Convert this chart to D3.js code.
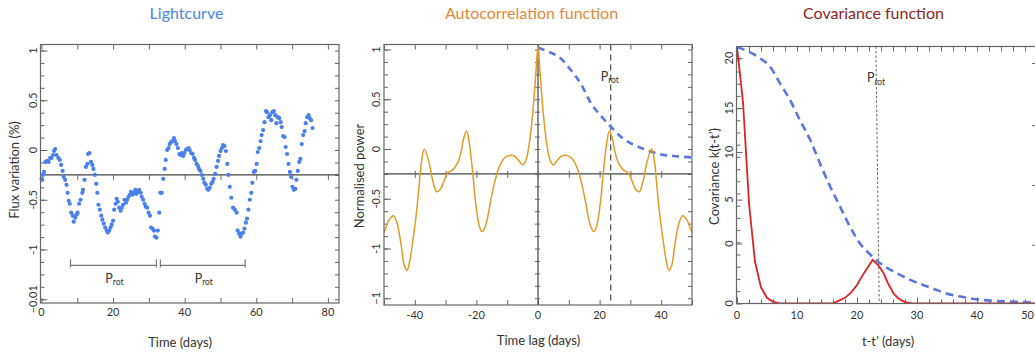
<!DOCTYPE html>
<html><head><meta charset="utf-8">
<script src="https://cdn.jsdelivr.net/npm/d3@7"></script>
<style>
html,body{margin:0;padding:0;background:#fff;}
svg{display:block;font-family:Lato,"Open Sans",sans-serif;}
</style></head><body>
<svg id="chart" width="1035" height="356"></svg>
<script>
// ---------- DATA ----------
// Lightcurve (time in days, flux variation in %)
const lcTime = [0.0,0.2,0.4,0.7,1.1,1.6,2.0,2.4,2.8,3.2,
3.5,3.8,4.2,4.7,5.1,5.5,5.9,6.2,6.6,7.0,
7.3,7.6,7.9,8.3,8.7,9.0,9.4,9.8,10.1,10.5,
10.9,11.4,11.6,12.0,12.4,12.8,13.0,13.4,13.8,14.2,
14.5,14.9,15.3,15.6,15.9,16.3,16.7,17.0,17.4,17.8,
18.2,18.5,18.9,19.3,19.6,20.0,20.3,20.7,21.0,21.3,
21.7,22.1,22.4,22.8,23.2,23.6,23.9,24.3,24.7,25.0,
25.4,25.8,26.2,26.5,26.9,27.3,27.7,28.0,28.4,28.8,
29.1,29.5,29.9,30.3,30.6,31.0,31.4,31.7,32.1,32.5,
32.9,33.2,33.6,34.0,34.4,34.7,35.1,35.5,35.8,36.2,
36.6,37.0,37.3,37.7,38.1,38.5,38.8,39.2,39.6,39.9,
40.3,40.7,41.1,41.4,41.8,42.2,42.6,42.9,43.3,43.7,
44.0,44.4,44.8,45.2,45.5,45.9,46.3,46.6,47.0,47.4,
47.8,48.1,48.5,48.9,49.3,49.6,50.0,50.4,50.7,51.1,
51.5,51.9,52.2,52.6,53.0,53.5,54.0,54.5,54.8,55.2,
55.6,55.9,56.3,56.7,57.1,57.4,57.8,58.2,58.6,58.9,
59.3,59.7,60.1,60.4,60.8,61.2,61.5,61.9,62.3,62.7,
63.0,63.4,63.8,64.2,64.5,64.9,65.3,65.6,66.0,66.4,
66.8,67.1,67.5,67.9,68.2,68.6,69.0,69.4,69.7,70.1,
70.5,70.9,71.2,71.6,72.0,72.3,72.7,73.1,73.5,73.8,
74.2,74.6,74.9,75.3,75.7];
const lcFlux = [-0.29,-0.30,-0.25,-0.22,-0.12,-0.11,-0.12,-0.08,-0.08,-0.05,
-0.01,0.01,-0.05,-0.08,-0.10,-0.15,-0.21,-0.27,-0.30,-0.35,
-0.43,-0.51,-0.54,-0.63,-0.66,-0.72,-0.68,-0.65,-0.63,-0.54,
-0.50,-0.43,-0.40,-0.30,-0.17,-0.14,-0.04,-0.03,-0.12,-0.15,
-0.19,-0.25,-0.34,-0.43,-0.55,-0.60,-0.66,-0.70,-0.74,-0.78,
-0.81,-0.83,-0.81,-0.78,-0.75,-0.71,-0.60,-0.54,-0.49,-0.52,
-0.58,-0.61,-0.58,-0.55,-0.50,-0.53,-0.50,-0.47,-0.45,-0.42,
-0.45,-0.43,-0.40,-0.44,-0.42,-0.40,-0.43,-0.47,-0.50,-0.54,
-0.57,-0.58,-0.63,-0.66,-0.78,-0.79,-0.81,-0.87,-0.88,-0.81,
-0.63,-0.43,-0.43,-0.29,-0.19,-0.10,0.00,0.02,0.06,0.08,
0.09,0.12,0.09,0.06,0.02,-0.04,-0.05,-0.03,-0.06,-0.03,
0.00,0.01,0.02,0.00,-0.03,-0.04,-0.08,-0.10,-0.14,-0.16,
-0.19,-0.21,-0.25,-0.29,-0.33,-0.35,-0.39,-0.40,-0.38,-0.34,
-0.32,-0.29,-0.24,-0.17,-0.11,-0.06,-0.01,0.02,0.05,0.04,
-0.01,-0.14,-0.25,-0.37,-0.48,-0.58,-0.60,-0.63,-0.81,-0.84,
-0.87,-0.84,-0.83,-0.79,-0.73,-0.69,-0.60,-0.50,-0.43,-0.33,
-0.22,-0.21,-0.14,-0.02,0.02,0.09,0.15,0.20,0.28,0.39,
0.38,0.33,0.35,0.30,0.38,0.39,0.35,0.27,0.33,0.32,
0.28,0.23,0.14,0.13,0.03,-0.04,-0.14,-0.22,-0.27,-0.37,
-0.40,-0.39,-0.30,-0.21,-0.12,-0.09,0.06,0.15,0.19,0.27,
0.33,0.35,0.32,0.30,0.22];
const lcMean = -0.25;
const lcProtSpans = [[8.1,32.1],[33.2,56.9]];
const lcProtLevel = -1.16;
const lcXTicks = [0,20,40,60,80];
const lcYTickValues = [1,0.5,0,-0.5,-1,-1.5];
const lcYTickLabels = ["1","0.5","0","-0.5","-1","\u22120.01"];

// Autocorrelation function
const acfLag = [-50,-49.6,-48.3,-47.0,-45.9,-44.5,-43.4,-42.5,-41.8,-40.9,
-39.6,-38.5,-37.8,-36.9,-35.5,-34.0,-32.9,-31.8,-30.4,-29.3,
-27.7,-26.1,-25.0,-24.0,-23.2,-22.3,-21.2,-20.1,-19.0,-18.2,
-17.4,-16.3,-15.3,-14.2,-12.6,-10.9,-9.3,-7.7,-6.1,-5.0,
-3.9,-2.8,-1.7,-0.7,0,
0.7,1.7,2.8,3.9,5.0,6.1,7.7,9.3,10.9,12.6,
14.2,15.3,16.3,17.4,18.2,19.0,20.1,21.2,22.3,23.2,
24.0,25.0,26.1,27.7,29.3,30.4,31.8,32.9,34.0,35.5,
36.9,37.8,38.5,39.6,40.9,41.8,42.5,43.4,44.5,45.9,
47.0,48.3,49.6,50];
const acfPower = [-0.84,-0.81,-0.71,-0.67,-0.73,-0.95,-1.17,-1.22,-1.15,-0.98,
-0.68,-0.34,-0.12,0.0,-0.12,-0.34,-0.43,-0.41,-0.31,-0.24,
-0.21,-0.14,-0.03,0.12,0.18,0.06,-0.24,-0.58,-0.78,-0.83,
-0.80,-0.68,-0.51,-0.35,-0.18,-0.09,-0.065,-0.07,-0.12,-0.16,
-0.11,0.06,0.36,0.76,1.03,
0.76,0.36,0.06,-0.11,-0.16,-0.12,-0.07,-0.065,-0.09,-0.18,
-0.35,-0.51,-0.68,-0.80,-0.83,-0.78,-0.58,-0.24,0.06,0.18,
0.12,-0.03,-0.14,-0.21,-0.24,-0.31,-0.41,-0.43,-0.34,-0.12,
0.0,-0.12,-0.34,-0.68,-0.98,-1.15,-1.22,-1.17,-0.95,-0.73,
-0.67,-0.71,-0.81,-0.84];
const acfEnvLag = [0,4,7,10.5,14,17,20.5,23.5,27,30,33.5,37,40,44,50];
const acfEnvPower = [1.02,0.97,0.92,0.80,0.65,0.47,0.33,0.23,0.12,0.06,0.01,-0.03,-0.055,-0.07,-0.085];
const acfZero = -0.25;
const acfProt = 23.6;
const acfXTicks = [-40,-20,0,20,40];
const acfYTickValues = [1,0.5,0,-0.5,-1,-1.5];
const acfYTickLabels = ["1","0.5","0","-0.5","-1","\u22121"];

// Covariance function
const covLag = [0,1,2,3,4,5,6,7,8,16,17,18,19,20,21,22,22.6,23.6,24.4,25.2,26.1,26.9,28,29,30,50];
const covQP  = [21,16.5,8.2,3.4,1.3,0.45,0.12,0.02,0,0,0.22,0.45,0.88,1.5,2.35,3.1,3.55,3.1,2.5,1.6,0.8,0.4,0.1,0.02,0,0];
const covEnvLag = [0,3.8,5.5,7.2,8.8,10.5,12.2,13.8,15.5,17.2,18.8,20.5,22.2,23.8,26.1,28.3,30.5,32.7,34.9,37.2,39.9,42.7,46,50];
const covEnv    = [21,20.1,19.4,18.0,16.7,15.0,13.4,11.5,9.6,7.9,6.3,4.9,4.0,3.3,2.6,2.05,1.6,1.2,0.8,0.55,0.33,0.2,0.13,0.05];
const covProtTopBottom = [23.15,23.7];
const covXTicks = [0,10,20,30,40,50];
const covYTickValues = [20.1,16.0,12.4,8.5,4.9,0];
const covYTickLabels = ["20","15","10","5","0","0"];
const covRightTicks = [4.8,9.7,14.6,19.7];

// ---------- LAYOUT ----------
const svg = d3.select("#chart");
const TXT = "#333", AX = "#666";
const lcBox = {l:40.5, r:339, t:44.5, b:303};
const acfBox = {l:384, r:692, t:44.5, b:305};
const covBox = {l:736.5, r:1040, t:46.5, b:303.5};

const xL = d3.scaleLinear().domain([0,80]).range([41.5,327.9]);
const yL = d3.scaleLinear().domain([1,-1.5]).range([50.5,299.25]);
const xA = d3.scaleLinear().domain([-50,50]).range([384,692]);
const yA = d3.scaleLinear().domain([1,-1.5]).range([49.5,298.25]);
const xC = d3.scaleLinear().domain([0,50]).range([737,1037]);
const yC = d3.scaleLinear().domain([0,21]).range([303.3,47.1]);

function frame(b){
  svg.append("rect").attr("x",b.l).attr("y",b.t).attr("width",b.r-b.l).attr("height",b.b-b.t)
    .attr("fill","none").attr("stroke",AX).attr("stroke-width",1.2);
}
function ticks(axisFn, scale, values, size, tx, ty){
  const g = svg.append("g").attr("transform",`translate(${tx},${ty})`)
    .call(axisFn(scale).tickValues(values).tickSize(size).tickFormat(""));
  g.select(".domain").remove();
  g.selectAll(".tick line").attr("stroke",AX).attr("stroke-width",1);
  g.selectAll(".tick text").remove();
  return g;
}
function xLabels(scale, values, y, lastEndAt){
  svg.append("g").selectAll("text").data(values).join("text")
    .attr("x",(d,i)=> (lastEndAt && i===values.length-1) ? lastEndAt : scale(d))
    .attr("y",y)
    .attr("text-anchor",(d,i)=> (lastEndAt && i===values.length-1) ? "end" : "middle")
    .attr("font-size",11).attr("fill",TXT).text(d=>d);
}
function yLabels(scale, values, labels, x){
  svg.append("g").selectAll("text").data(values).join("text")
    .attr("transform",d=>`translate(${x},${scale(d)}) rotate(-90)`)
    .attr("text-anchor","middle").attr("font-size",11).attr("fill",TXT)
    .text((d,i)=>labels[i]);
}
function title(text, x, color){
  svg.append("text").attr("x",x).attr("y",18.5).attr("text-anchor","middle")
    .attr("font-size",16).attr("fill",color).text(text);
}
function xTitle(text, x, y){
  svg.append("text").attr("x",x).attr("y",y).attr("text-anchor","middle")
    .attr("font-size",13).attr("fill",TXT).text(text);
}
function yTitle(text, x, y){
  svg.append("text").attr("transform",`translate(${x},${y}) rotate(-90)`)
    .attr("text-anchor","middle").attr("font-size",13).attr("fill",TXT).text(text);
}
function protLabel(x, y, anchor){
  const t = svg.append("text").attr("x",x).attr("y",y).attr("text-anchor",anchor)
    .attr("fill",TXT).attr("font-size",12.5);
  t.append("tspan").text("P");
  t.append("tspan").attr("font-size",8.5).attr("dy",2.5).text("rot");
}
function clip(id, b){
  svg.append("clipPath").attr("id",id).append("rect")
    .attr("x",b.l).attr("y",b.t).attr("width",b.r-b.l).attr("height",b.b-b.t);
}

// ---------- PANEL 1: Lightcurve ----------
title("Lightcurve", 186.5, "#4a86e8");
const yMinor = d3.range(-1.5,1.001,0.125);
ticks(d3.axisLeft, yL, yMinor, -4, lcBox.l, 0);
ticks(d3.axisLeft, yL, lcYTickValues, -7, lcBox.l, 0);
ticks(d3.axisRight, yL, yMinor, -4, lcBox.r, 0);
ticks(d3.axisBottom, xL, d3.range(0,81,10), -5, 0, lcBox.b);
ticks(d3.axisTop, xL, d3.range(0,81,10), -5, 0, lcBox.t);
svg.append("line").attr("x1",lcBox.l).attr("x2",lcBox.r).attr("y1",yL(lcMean)).attr("y2",yL(lcMean))
  .attr("stroke","#444").attr("stroke-width",1.2);
ticks(d3.axisBottom, xL, d3.range(10,81,10), 5, 0, yL(lcMean));

// P_rot brackets
const br = svg.append("g").attr("stroke","#777").attr("stroke-width",1.2).attr("fill","none");
lcProtSpans.forEach(s=>{
  const yy = yL(lcProtLevel);
  br.append("line").attr("x1",xL(s[0])).attr("x2",xL(s[1])).attr("y1",yy).attr("y2",yy);
  br.append("line").attr("x1",xL(s[0])).attr("x2",xL(s[0])).attr("y1",yy-6).attr("y2",yy+2);
  br.append("line").attr("x1",xL(s[1])).attr("x2",xL(s[1])).attr("y1",yy-6).attr("y2",yy+2);
  protLabel(xL((s[0]+s[1])/2)+1, 282.5, "middle");
});

svg.append("g").selectAll("circle").data(d3.zip(lcTime, lcFlux)).join("circle")
  .attr("cx",d=>xL(d[0])).attr("cy",d=>yL(d[1])).attr("r",2.1).attr("fill","#4a80ee");
frame(lcBox);
xLabels(xL, lcXTicks, 316);
yLabels(yL, lcYTickValues, lcYTickLabels, 36.5);
xTitle("Time (days)", 180, 347);
yTitle("Flux variation (%)", 18.5, 170);

// ---------- PANEL 2: ACF ----------
title("Autocorrelation function", 531.5, "#e0893a");
clip("clipA", acfBox);
ticks(d3.axisLeft, yA, yMinor, -4, acfBox.l, 0);
ticks(d3.axisLeft, yA, acfYTickValues, -7, acfBox.l, 0);
ticks(d3.axisRight, yA, yMinor, -4, acfBox.r, 0);
ticks(d3.axisBottom, xA, d3.range(-50,51,10), -5, 0, acfBox.b);
ticks(d3.axisTop, xA, d3.range(-50,51,10), -5, 0, acfBox.t);
svg.append("line").attr("x1",acfBox.l).attr("x2",acfBox.r).attr("y1",yA(acfZero)).attr("y2",yA(acfZero))
  .attr("stroke","#444").attr("stroke-width",1.2);
svg.append("line").attr("x1",xA(0)).attr("x2",xA(0)).attr("y1",acfBox.t).attr("y2",acfBox.b)
  .attr("stroke","#444").attr("stroke-width",1.2);
ticks(d3.axisBottom, xA, d3.range(-40,41,10), 4, 0, yA(acfZero));
ticks(d3.axisTop, xA, d3.range(-40,41,10), 3, 0, yA(acfZero));
ticks(d3.axisLeft, yA, yMinor, 3, xA(0), 0);
ticks(d3.axisRight, yA, yMinor, 2, xA(0), 0);
svg.append("line").attr("x1",xA(acfProt)).attr("x2",xA(acfProt)).attr("y1",acfBox.t).attr("y2",acfBox.b)
  .attr("stroke","#555").attr("stroke-width",1.3).attr("stroke-dasharray","6,4");
protLabel(xA(acfProt)-10, 80.5, "start");

const gA = svg.append("g").attr("clip-path","url(#clipA)");
gA.append("path").datum(d3.zip(acfEnvLag, acfEnvPower))
  .attr("d", d3.line().x(d=>xA(d[0])).y(d=>yA(d[1])).curve(d3.curveMonotoneX))
  .attr("fill","none").attr("stroke","#5a78dd").attr("stroke-width",2.6).attr("stroke-dasharray","7,5");
gA.append("path").datum(d3.zip(acfLag, acfPower))
  .attr("d", d3.line().x(d=>xA(d[0])).y(d=>yA(d[1])).curve(d3.curveCatmullRom.alpha(0.5)))
  .attr("fill","none").attr("stroke","#e39b26").attr("stroke-width",1.5);
frame(acfBox);
xLabels(xA, acfXTicks, 319);
yLabels(yA, acfYTickValues, acfYTickLabels, 380);
xTitle("Time lag (days)", 538.5, 345);
yTitle("Normalised power", 363.5, 176);

// ---------- PANEL 3: Covariance ----------
title("Covariance function", 873.5, "#8b1f1f");
clip("clipC", covBox);
ticks(d3.axisLeft, yC, d3.range(0,21.5,1), -4, covBox.l, 0);
ticks(d3.axisLeft, yC, covYTickValues, -6, covBox.l, 0);
ticks(d3.axisRight, yC, covRightTicks, -5, covBox.r - 3, 0);
ticks(d3.axisBottom, xC, d3.range(0,51,2), -4, 0, covBox.b);
ticks(d3.axisBottom, xC, covXTicks, -6, 0, covBox.b);
ticks(d3.axisTop, xC, d3.range(0,51,2), -5, 0, covBox.t);
svg.append("line").attr("x1",xC(covProtTopBottom[0])).attr("x2",xC(covProtTopBottom[1]))
  .attr("y1",covBox.t).attr("y2",covBox.b)
  .attr("stroke","#666").attr("stroke-width",1).attr("stroke-dasharray","2.5,2");
protLabel(xC(covProtTopBottom[0])-9, 82, "start");

const gC = svg.append("g").attr("clip-path","url(#clipC)");
gC.append("path").datum(d3.zip(covEnvLag, covEnv))
  .attr("d", d3.line().x(d=>xC(d[0])).y(d=>yC(d[1])).curve(d3.curveMonotoneX))
  .attr("fill","none").attr("stroke","#5a78dd").attr("stroke-width",2.6).attr("stroke-dasharray","8,5");
gC.append("path").datum(d3.zip(covLag, covQP))
  .attr("d", d3.line().x(d=>xC(d[0])).y(d=>yC(d[1])))
  .attr("fill","none").attr("stroke","#dd2222").attr("stroke-width",1.8);
frame(covBox);
xLabels(xC, covXTicks, 318.5, 1034);
yLabels(yC, covYTickValues, covYTickLabels, 733);
xTitle("t-t\u2019  (days)", 888, 346);
yTitle("Covariance k(t-t\u2019)", 719, 176.5);
</script>
</body></html>
